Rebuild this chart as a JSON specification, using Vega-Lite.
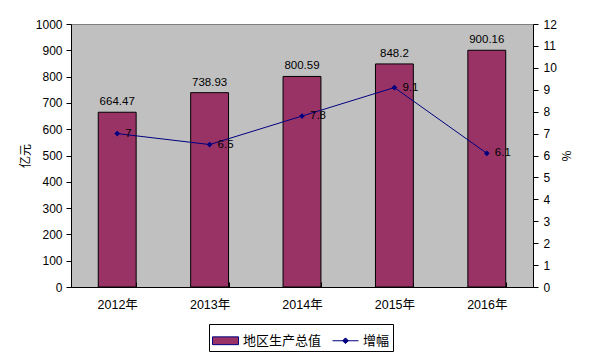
{
  "$schema": "https://vega.github.io/schema/vega-lite/v6.json",
  "width": 462,
  "height": 263,
  "autosize": "none",
  "padding": {"left": 71, "top": 24, "right": 61, "bottom": 66},
  "background": "#FFFFFF",
  "config": {
    "view": {"fill": "#C0C0C0", "stroke": "#808080", "strokeWidth": 1},
    "font": "Liberation Sans, Noto Sans CJK SC",
    "axis": {"grid": false, "domainColor": "#000000", "tickColor": "#000000", "labelColor": "#000000", "titleColor": "#000000", "labelFont": "Liberation Sans, Noto Sans CJK SC", "titleFont": "Noto Sans CJK SC", "labelFontSize": 12, "titleFontSize": 12, "titleFontWeight": "normal"}
  },
  "data": {
    "values": [
      {"year": "2012年", "gdp": 664.47, "gdpLabel": "664.47", "growth": 7, "growthLabel": "7"},
      {"year": "2013年", "gdp": 738.93, "gdpLabel": "738.93", "growth": 6.5, "growthLabel": "6.5"},
      {"year": "2014年", "gdp": 800.59, "gdpLabel": "800.59", "growth": 7.8, "growthLabel": "7.8"},
      {"year": "2015年", "gdp": 848.2, "gdpLabel": "848.2", "growth": 9.1, "growthLabel": "9.1"},
      {"year": "2016年", "gdp": 900.16, "gdpLabel": "900.16", "growth": 6.1, "growthLabel": "6.1"}
    ]
  },
  "encoding": {
    "x": {
      "field": "year", "type": "nominal", "sort": null,
      "scale": {"paddingInner": 0.59, "paddingOuter": 0.295},
      "axis": {"title": null, "labelAngle": 0, "tickBand": "extent", "tickSize": -5, "labelPadding": 16, "labelFontSize": 12.5}
    }
  },
  "layer": [
    {
      "encoding": {
        "y": {
          "field": "gdp", "type": "quantitative",
          "scale": {"domain": [0, 1000], "nice": false},
          "axis": {"orient": "left", "title": "亿元", "titleAngle": 270, "format": "d", "values": [0,100,200,300,400,500,600,700,800,900,1000], "tickSize": 5, "labelPadding": 4, "titlePadding": 3}
        }
      },
      "layer": [
        {
          "mark": {"type": "bar", "fill": "#993366", "stroke": "#000000", "strokeWidth": 1}
        },
        {
          "mark": {"type": "text", "baseline": "bottom", "dy": -5, "fontSize": 11.5, "color": "#000000", "font": "Liberation Sans"},
          "encoding": {"text": {"field": "gdpLabel"}}
        }
      ]
    },
    {
      "encoding": {
        "y": {
          "field": "growth", "type": "quantitative",
          "scale": {"domain": [0, 12], "nice": false},
          "axis": {"orient": "right", "title": "%", "titleAngle": 270, "values": [0,1,2,3,4,5,6,7,8,9,10,11,12], "tickSize": 5, "labelPadding": 5, "titlePadding": 17}
        }
      },
      "layer": [
        {"mark": {"type": "line", "color": "#000080", "strokeWidth": 1}},
        {
          "mark": {"type": "point", "filled": true, "size": 676, "opacity": 1},
          "encoding": {
            "fill": {
              "datum": "增幅",
              "scale": {"domain": ["地区生产总值", "增幅"], "range": ["#993366", "#000080"]},
              "legend": {
                "title": null, "orient": "none", "legendX": 138, "legendY": 300,
                "direction": "horizontal",
                "strokeColor": "#000000", "fillColor": "#FFFFFF", "padding": 3,
                "symbolSize": 676, "symbolStrokeWidth": 1, "symbolStrokeColor": "#000080", "symbolOpacity": 1,
                "labelFont": "Noto Sans CJK SC", "labelFontSize": 13, "labelColor": "#000000",
                "labelOffset": 4, "columnPadding": 8,
                "encode": {"symbols": {"update": {"stroke": {"value": "#000080"}, "strokeWidth": {"value": 1}}}}
              }
            },
            "shape": {
              "datum": "增幅",
              "scale": {"domain": ["地区生产总值", "增幅"], "range": ["M-1,-0.3H1V0.3H-1Z", "M-1,0H1M-0.22,0L0,-0.22L0.22,0L0,0.22Z"]},
              "legend": {
                "title": null, "orient": "none", "legendX": 138, "legendY": 300,
                "direction": "horizontal",
                "strokeColor": "#000000", "fillColor": "#FFFFFF", "padding": 3,
                "symbolSize": 676, "symbolStrokeWidth": 1, "symbolStrokeColor": "#000080", "symbolOpacity": 1,
                "labelFont": "Noto Sans CJK SC", "labelFontSize": 13, "labelColor": "#000000",
                "labelOffset": 4, "columnPadding": 8,
                "encode": {"symbols": {"update": {"stroke": {"value": "#000080"}, "strokeWidth": {"value": 1}}}}
              }
            }
          }
        },
        {
          "mark": {"type": "text", "align": "left", "baseline": "middle", "dx": 8, "fontSize": 11.5, "color": "#000000", "font": "Liberation Sans"},
          "encoding": {"text": {"field": "growthLabel"}}
        }
      ]
    }
  ],
  "resolve": {"scale": {"y": "independent"}}
}
